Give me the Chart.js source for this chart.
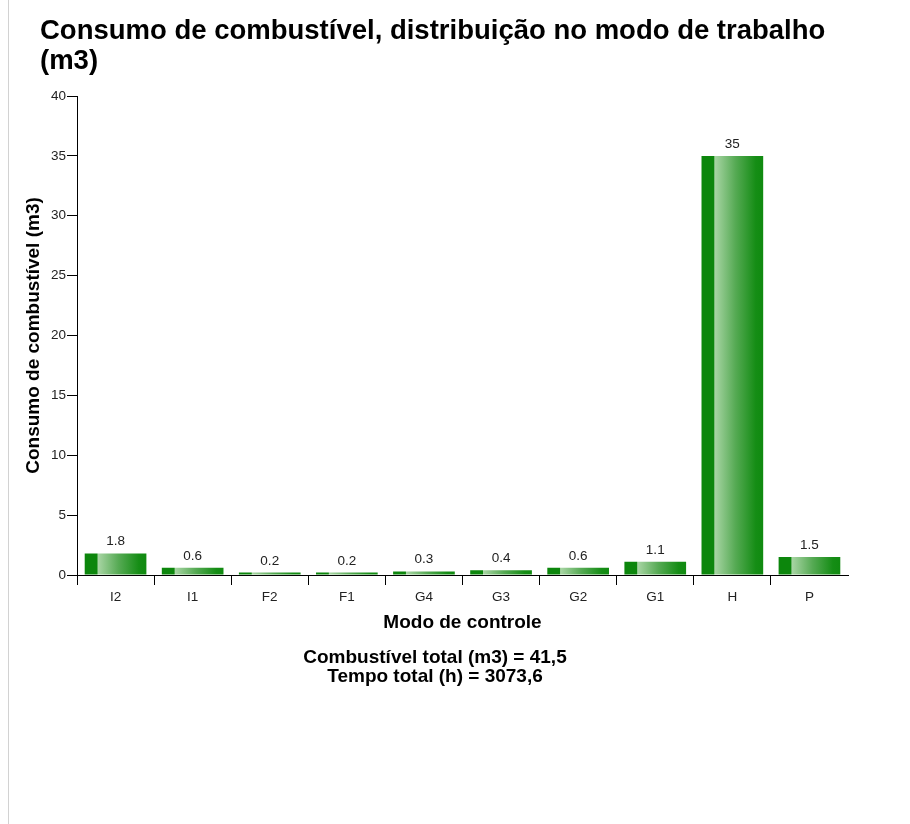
<!DOCTYPE html>
<html>
<head>
<meta charset="utf-8">
<script src="https://cdn.jsdelivr.net/npm/chart.js@4.4.1/dist/chart.umd.min.js"></script>
<style>
  html, body { margin: 0; padding: 0; background: #fff; }
  #wrap { position: relative; width: 910px; height: 824px; overflow: hidden; }
  #edge { position: absolute; left: 8px; top: 0; width: 1px; height: 824px; background: #d2d2d2; }
  #title { position: absolute; left: 40px; top: 15px; font: bold 27.5px "Liberation Sans", Arial, sans-serif; line-height: 30px; color: #000; white-space: nowrap; }
  #footer { position: absolute; left: 0; top: 647px; width: 870px; text-align: center; font: bold 19px "Liberation Sans", Arial, sans-serif; line-height: 19px; color: #000; }
  canvas { position: absolute; left: 0; top: 0; }
</style>
</head>
<body>
<div id="wrap">
  <div id="edge"></div>
  <canvas id="chart" width="910" height="824"></canvas>
  <div id="title"></div>
  <div id="footer"></div>
</div>
<script>
const chartTitle = ["Consumo de combustível, distribuição no modo de trabalho", "(m3)"];
const xAxisTitle = "Modo de controle";
const yAxisTitle = "Consumo de combustível (m3)";
const categories = ["I2", "I1", "F2", "F1", "G4", "G3", "G2", "G1", "H", "P"];
const fuelValues = [1.8, 0.6, 0.2, 0.2, 0.3, 0.4, 0.6, 1.1, 35, 1.5];
const yMin = 0, yMax = 40, yStep = 5;
const footerLines = ["Combustível total (m3) = 41,5", "Tempo total (h) = 3073,6"];

document.getElementById('title').innerHTML = chartTitle.join('<br>');
document.getElementById('footer').innerHTML = footerLines.join('<br>');

Chart.defaults.font.family = '"Liberation Sans", Arial, sans-serif';
Chart.defaults.color = '#222';

function barGradient(c) {
  const ch = c.chart;
  const xs = ch.scales && ch.scales.x;
  if (!xs || !ch.chartArea) return '#0f870f';
  const cx = xs.getPixelForValue(c.dataIndex);
  const w = (xs.width / categories.length) * 0.8;
  const g = ch.ctx.createLinearGradient(cx - w / 2, 0, cx + w / 2, 0);
  g.addColorStop(0, '#0c860c');
  g.addColorStop(0.2, '#0c860c');
  g.addColorStop(0.215, '#a8d5a4');
  g.addColorStop(0.55, '#56aa54');
  g.addColorStop(0.88, '#158d15');
  g.addColorStop(1, '#108a10');
  return g;
}

const valueLabels = {
  id: 'valueLabels',
  afterDatasetsDraw(chart) {
    const meta = chart.getDatasetMeta(0);
    const ctx = chart.ctx;
    ctx.save();
    ctx.font = '13.5px "Liberation Sans", Arial, sans-serif';
    ctx.fillStyle = '#222';
    ctx.textAlign = 'center';
    ctx.textBaseline = 'alphabetic';
    meta.data.forEach((bar, i) => {
      ctx.fillText(String(fuelValues[i]), bar.x, bar.y - 8);
    });
    ctx.restore();
  }
};

new Chart(document.getElementById('chart'), {
  type: 'bar',
  data: {
    labels: categories,
    datasets: [{
      data: fuelValues,
      backgroundColor: barGradient,
      borderWidth: 0,
      categoryPercentage: 1.0,
      barPercentage: 0.8
    }]
  },
  options: {
    responsive: false,
    animation: false,
    layout: { padding: { left: 0, top: 96, right: 62, bottom: 190 } },
    plugins: { legend: { display: false }, tooltip: { enabled: false }, title: { display: false } },
    scales: {
      x: {
        afterFit(s) { s.height = 59; },
        grid: {
          offset: true,
          drawOnChartArea: false,
          drawTicks: true,
          tickLength: 10,
          color: (c) => (c.tick === undefined) ? 'rgba(0,0,0,0)' : '#000'
        },
        border: { display: true, color: '#000', width: 1 },
        ticks: { font: { size: 13.5 }, color: '#222', padding: 4, maxRotation: 0 },
        title: { display: true, text: xAxisTitle, font: { size: 19, weight: 'bold' }, color: '#000', padding: { top: 0, bottom: 0 } }
      },
      y: {
        min: yMin, max: yMax,
        afterFit(s) { s.width = 77; },
        grid: { drawOnChartArea: false, drawTicks: true, tickLength: 10, color: '#000' },
        border: { display: true, color: '#000', width: 1 },
        ticks: { stepSize: yStep, font: { size: 13.5 }, color: '#222', padding: 1 },
        title: { display: true, text: yAxisTitle, font: { size: 19, weight: 'bold' }, color: '#000', padding: { top: 22, bottom: 0 } }
      }
    }
  },
  plugins: [valueLabels]
});
</script>
</body>
</html>
